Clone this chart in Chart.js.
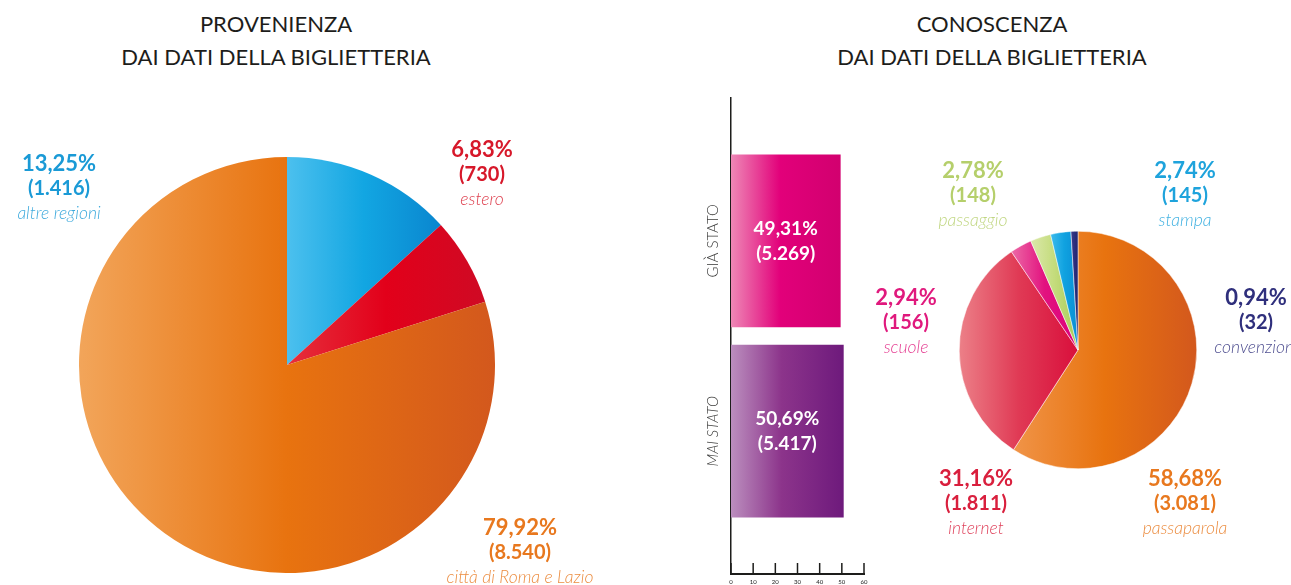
<!DOCTYPE html>
<html>
<head>
<meta charset="utf-8">
<script src="https://cdn.jsdelivr.net/npm/chart.js@4.4.1/dist/chart.umd.min.js"></script>
<style>
	body { margin: 0; width: 1291px; height: 585px; overflow: hidden; background: #fff; position: relative; font-family: Lato, "Open Sans", sans-serif; }
	.title { position: absolute; top: 7px; width: 500px; margin-left: -250px; text-align: center; font-size: 22px; line-height: 33px; color: #1d1d1b; }
	.lbl { position: absolute; width: 220px; margin-left: -110px; text-align: center; line-height: 25px; white-space: nowrap; }
	.lbl .p { font-weight: 700; font-size: 22px; }
	.lbl .n { font-weight: 700; font-size: 20px; }
	.lbl .c { font-style: italic; font-weight: 300; font-size: 17.5px; opacity: 0.85; }
	canvas { position: absolute; }
</style>
</head>
<body>
<div class="title" style="left:276px">PROVENIENZA<br>DAI DATI DELLA BIGLIETTERIA</div>
<div class="title" style="left:992px">CONOSCENZA<br>DAI DATI DELLA BIGLIETTERIA</div>
<canvas id="prov" width="416" height="416" style="left:79px;top:157px"></canvas>
<canvas id="bars" width="190" height="505" style="left:690px;top:90px"></canvas>
<canvas id="con" width="238" height="238" style="left:959px;top:231px"></canvas>
<script>
// provenienza
const provNames = ["altre regioni", "estero", "città di Roma e Lazio"];
const provPct = [13.25, 6.83, 79.92];
const provCount = [1416, 730, 8540];

// conoscenza
const conNames = ["passaparola", "internet", "scuole", "passaggio", "stampa", "convenzioni"];
const conPct = [58.68, 31.16, 2.94, 2.78, 2.74, 0.94];
const conCount = [3081, 1811, 156, 148, 145, 32];

// già stato / mai stato
const visitNames = ["GIÀ STATO", "MAI STATO"];
const visitPct = [49.31, 50.69];
const visitCount = [5269, 5417];

// styles
const provFill = [["#4cc0ee", "#12a6e2", "#0a86cf"], ["#e6303c", "#e2001a", "#cf0a24"], ["#f2a55a", "#e8730f", "#d3581d"]];
const provText = ["#1a9ad6", "#d7182a", "#e8781e"];
const provPos = [[59, 150], [482, 136], [520, 514]];

const conFill = [["#f09448", "#e8730f", "#d3581d"], ["#ec8088", "#e03a55", "#d90f3c"], ["#ec6aa6", "#e2127f", "#dc007a"],
	["#dbe8ab", "#c4dc7c", "#a8cb58"], ["#3dbbec", "#10a2e0", "#0a8ed4"], ["#3a3c8c", "#2b2e7e", "#23266e"]];
const conText = ["#e8781e", "#d91f3d", "#e0197d", "#b5cf6b", "#1ea3dc", "#2f2f7c"];
const conPos = [[1185, 465], [976, 465], [906, 284], [973, 157], [1185, 157], [1256, 284]];

const visitFill = [["#ee88b6", "#e2007a", "#d2006f"], ["#bb8ebe", "#8c348b", "#6e1a7c"]];
const visitFont = ["normal", "italic"];

const fmtPct = v => v.toFixed(2).replace(".", ",") + "%";
const fmtCount = v => "(" + String(v).replace(/\B(?=(\d{3})+(?!\d))/g, ".") + ")";

function sliceGradient(c, values, fills) {
	let stops = fills[c.dataIndex];
	let area = c.chart.chartArea;
	if (!area) return stops[1];
	let cx = (area.left + area.right) / 2;
	let r = Math.min(area.width, area.height) / 2;
	let total = values.reduce((a, b) => a + b, 0);
	let before = 0;
	for (let i = 0; i < c.dataIndex; i++) before += values[i];
	let a0 = -Math.PI / 2 + before / total * 2 * Math.PI;
	let a1 = a0 + values[c.dataIndex] / total * 2 * Math.PI;
	let xs = [cx, cx + r * Math.cos(a0), cx + r * Math.cos(a1)];
	[0, Math.PI].forEach(k => { if (k > a0 && k < a1) xs.push(cx + r * Math.cos(k)); });
	let x0 = Math.min(...xs), x1 = Math.max(...xs);
	if (x1 - x0 < 1) x1 = x0 + 1;
	let g = c.chart.ctx.createLinearGradient(x0, 0, x1, 0);
	g.addColorStop(0, stops[0]);
	g.addColorStop(0.5, stops[1]);
	g.addColorStop(1, stops[2]);
	return g;
}

function pie(id, values, fills, border) {
	return new Chart(document.getElementById(id), {
		type: "pie",
		data: {
			datasets: [{
				data: values,
				backgroundColor: c => sliceGradient(c, values, fills),
				borderWidth: border,
				borderColor: "#fff",
				hoverOffset: 0
			}]
		},
		options: {
			responsive: false,
			animation: false,
			layout: { padding: 0 },
			plugins: { legend: { display: false }, tooltip: { enabled: false } }
		}
	});
}

function addLabels(names, pct, count, colors, pos) {
	names.forEach((n, i) => {
		let d = document.createElement("div");
		d.className = "lbl";
		d.style.left = pos[i][0] + "px";
		d.style.top = pos[i][1] + "px";
		d.style.color = colors[i];
		d.innerHTML = '<div class="p">' + fmtPct(pct[i]) + '</div><div class="n">' + fmtCount(count[i]) + '</div><div class="c">' + n + '</div>';
		document.body.appendChild(d);
	});
}

const barDecor = {
	id: "barDecor",
	afterDatasetsDraw(chart) {
		let ctx = chart.ctx;
		let meta = chart.getDatasetMeta(0);
		ctx.save();
		ctx.textAlign = "center";
		ctx.textBaseline = "middle";
		ctx.fillStyle = "#fff";
		ctx.font = "bold 19px Lato";
		meta.data.forEach((bar, i) => {
			let cx = (bar.base + bar.x) / 2;
			ctx.fillText(fmtPct(visitPct[i]), cx, bar.y - 12);
			ctx.fillText(fmtCount(visitCount[i]), cx, bar.y + 13);
		});

		// category names, rotated
		let ys = chart.scales.y;
		ctx.fillStyle = "#3c3c3b";
		visitNames.forEach((t, i) => {
			ctx.save();
			ctx.translate(ys.right - 18, ys.getPixelForValue(i + 1));
			ctx.rotate(-Math.PI / 2);
			ctx.font = visitFont[i] + " 300 15px Lato";
			ctx.fillText(t, 0, 0);
			ctx.restore();
		});

		// tick marks pointing up
		let xs = chart.scales.x;
		ctx.strokeStyle = "#1d1d1b";
		ctx.lineWidth = 1.5;
		xs.ticks.forEach(t => {
			let px = xs.getPixelForValue(t.value);
			ctx.beginPath();
			ctx.moveTo(px, xs.top);
			ctx.lineTo(px, xs.top - 11);
			ctx.stroke();
		});
		ctx.restore();
	}
};

function barGradient(c) {
	let stops = visitFill[c.dataIndex];
	let chart = c.chart;
	if (!chart.chartArea || !chart.scales.x) return stops[1];
	let x0 = chart.scales.x.getPixelForValue(0);
	let x1 = chart.scales.x.getPixelForValue(visitPct[c.dataIndex]);
	let g = chart.ctx.createLinearGradient(x0, 0, x1, 0);
	g.addColorStop(0, stops[0]);
	g.addColorStop(0.45, stops[1]);
	g.addColorStop(1, stops[2]);
	return g;
}

pie("prov", provPct, provFill, 0);
pie("con", conPct, conFill, 0.5);
addLabels(provNames, provPct, provCount, provText, provPos);
addLabels(conNames, conPct, conCount, conText, conPos);

new Chart(document.getElementById("bars"), {
	type: "bar",
	data: {
		datasets: [{
			data: visitPct.map((v, i) => ({ x: v, y: i + 1 })),
			backgroundColor: barGradient,
			borderWidth: 0,
			barThickness: 172
		}]
	},
	options: {
		indexAxis: "y",
		responsive: false,
		animation: false,
		layout: { padding: { top: 8, right: 16, left: 0, bottom: 0 } },
		plugins: { legend: { display: false }, tooltip: { enabled: false } },
		scales: {
			x: {
				type: "linear",
				min: 0,
				max: 60,
				ticks: { stepSize: 10, font: { size: 6, family: "Lato" }, color: "#222", padding: 4 },
				grid: { display: false, drawTicks: false },
				border: { color: "#1d1d1b", width: 2 },
				afterFit: s => { s.height = 21; }
			},
			y: {
				type: "linear",
				reverse: true,
				offset: false,
				min: 0.25,
				max: 2.75,
				ticks: { display: false },
				grid: { display: false, offset: false },
				border: { color: "#1d1d1b", width: 1.5 },
				afterFit: s => { s.width = 41; }
			}
		}
	},
	plugins: [barDecor]
});
</script>
</body>
</html>
